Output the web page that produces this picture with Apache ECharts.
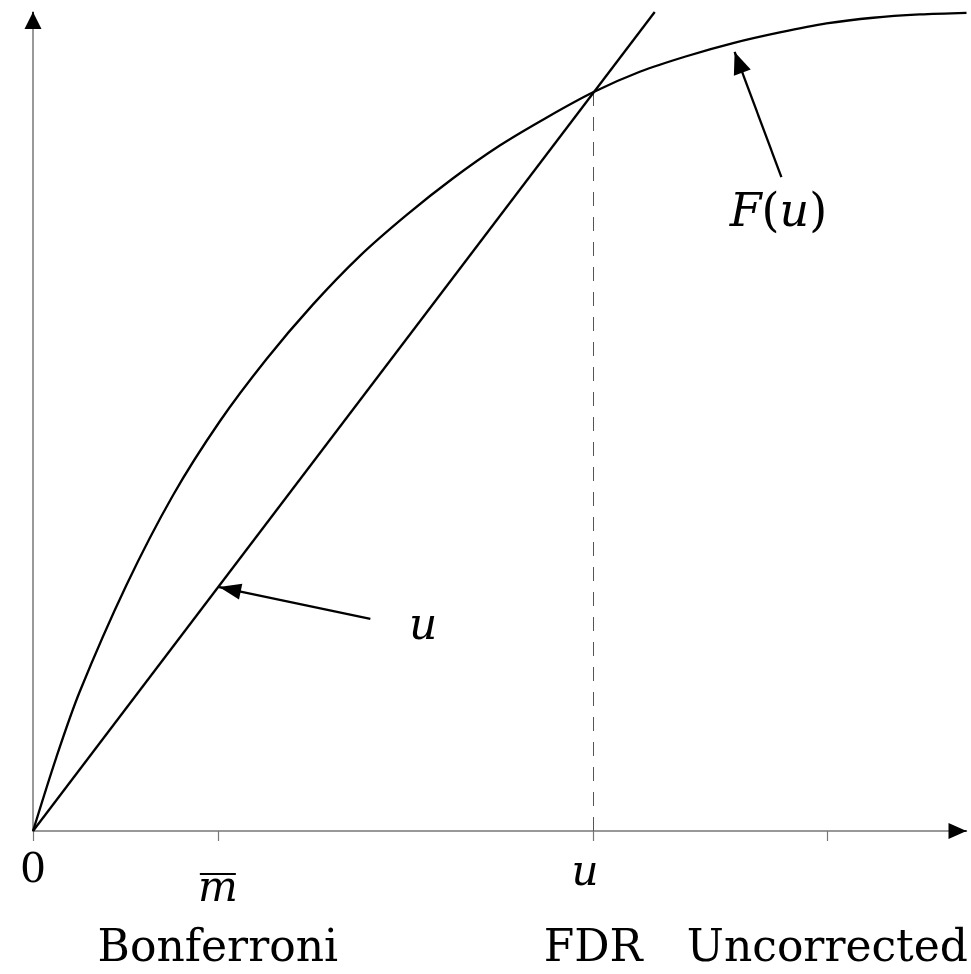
<!DOCTYPE html>
<html><head><meta charset="utf-8">
<script src="https://cdn.jsdelivr.net/npm/echarts@6/dist/echarts.min.js"></script>
<style>html,body{margin:0;padding:0;background:#fff}#c{width:971px;height:974px}</style>
</head><body><div id="c"></div>
<script>
// ---- data ----
const fX = [0, 0.025, 0.05, 0.1, 0.15, 0.2, 0.25, 0.3, 0.35, 0.4, 0.45, 0.5, 0.55, 0.6, 0.65, 0.7, 0.75, 0.8, 0.85, 0.9, 0.95, 1.0];
const fY = [0, 0.090, 0.170, 0.300, 0.410, 0.500, 0.576, 0.643, 0.702, 0.752, 0.797, 0.837, 0.871, 0.902, 0.927, 0.946, 0.962, 0.975, 0.986, 0.993, 0.997, 0.999];
const uX = [0, 0.666];
const uY = [0, 1];
const tickPos = [0, 0.198, 0.600, 0.851];
const tickLabelPos = [0, 0.198, 0.600];
const tickLabels = ['0', 'mbar', 'u'];
const methodPos = [0.198, 0.600, 0.851];
const methodNames = ['Bonferroni', 'FDR', 'Uncorrected'];
const uStar = 0.600;
const fAtUStar = 0.902;
const fArrowFrom = [0.8017, 0.7985], fArrowTo = [0.7516, 0.9512];
const uArrowFrom = [0.3614, 0.2589], uArrowTo = [0.1994, 0.2979];
const fLabelAt = [0.7985, 0.7534];
const uLabelAt = [0.4179, 0.2479];

const SERIF = 'DejaVu Serif';
const AX = '#777';
const chart = echarts.init(document.getElementById('c'), null, {renderer: 'canvas'});

const fData = fX.map((x, i) => [x, fY[i]]);
const uData = uX.map((x, i) => [x, uY[i]]);

function arrow(from, to, size, off) {
  return [
    {coord: from, symbol: 'none', lineStyle: {color: '#000', width: 2.3, type: 'solid'}},
    {coord: to, symbol: 'triangle', symbolSize: size, symbolOffset: [0, off]}
  ];
}

const option = {
  animation: false,
  backgroundColor: '#fff',
  grid: {left: 33, right: 0, top: 12, bottom: 143, containLabel: false},
  xAxis: [{
    type: 'value', min: 0, max: 1,
    axisLine: {show: true, onZero: false, lineStyle: {color: AX, width: 1.5}},
    axisTick: {show: true, length: 10, customValues: tickPos, lineStyle: {color: AX, width: 1.2}},
    splitLine: {show: false},
    axisLabel: {
      show: true, customValues: tickLabelPos, margin: 18,
      formatter: function (v) {
        let k = 0, best = 1e9;
        tickLabelPos.forEach((p, i) => { if (Math.abs(p - v) < best) { best = Math.abs(p - v); k = i; } });
        const t = tickLabels[k];
        if (t === 'mbar') return '{sp| }\n{ov| }\n{m|m}';
        if (t === 'u') return '{i|u}';
        return '{n|' + t + '}';
      },
      rich: {
        n: {fontFamily: SERIF, fontSize: 41, lineHeight: 44, color: '#000'},
        i: {fontFamily: SERIF, fontStyle: 'italic', fontSize: 42, lineHeight: 50, color: '#000', padding: [0, 16, 0, 0]},
        sp: {fontSize: 2, lineHeight: 24},
        ov: {fontSize: 2, lineHeight: 2, height: 2, width: 36, backgroundColor: '#000'},
        m: {fontFamily: SERIF, fontStyle: 'italic', fontSize: 42, lineHeight: 30, color: '#000'}
      }
    }
  }, {
    type: 'value', min: 0, max: 1, position: 'bottom',
    axisLine: {show: false}, axisTick: {show: false}, splitLine: {show: false},
    axisLabel: {
      show: true, customValues: methodPos, margin: 96,
      formatter: function (v) {
        let k = 0, best = 1e9;
        methodPos.forEach((p, i) => { if (Math.abs(p - v) < best) { best = Math.abs(p - v); k = i; } });
        return methodNames[k];
      },
      fontFamily: SERIF, fontSize: 44, lineHeight: 46, color: '#000'
    }
  }],
  yAxis: {
    type: 'value', min: 0, max: 1,
    axisLine: {show: true, onZero: false, lineStyle: {color: AX, width: 1.5}},
    axisTick: {show: false}, axisLabel: {show: false}, splitLine: {show: false}
  },
  series: [{
    name: 'F(u)', type: 'line', data: fData, smooth: 0.3,
    showSymbol: false, lineStyle: {color: '#000', width: 2.3}, z: 5
  }, {
    name: 'u', type: 'line', data: uData, showSymbol: false,
    lineStyle: {color: '#000', width: 2.3}, z: 5,
    markLine: {
      silent: true, animation: false, label: {show: false},
      data: [
        [{coord: [uStar, 0], symbol: 'none', lineStyle: {color: '#555', width: 1, type: [14, 11]}},
         {coord: [uStar, fAtUStar], symbol: 'none'}],
        arrow(fArrowFrom, fArrowTo, [18, 22], 11),
        arrow(uArrowFrom, uArrowTo, [16, 22], 11),
        [{coord: [0.986, 0], symbol: 'none', lineStyle: {color: '#000', width: 1.5, type: 'solid'}},
         {coord: [1, 0], symbol: 'triangle', symbolSize: [16, 18], symbolOffset: [0, 9]}],
        [{coord: [0, 0.986], symbol: 'none', lineStyle: {color: '#000', width: 1.5, type: 'solid'}},
         {coord: [0, 1], symbol: 'triangle', symbolSize: [17, 17], symbolOffset: [0, 8.5]}]
      ]
    },
    markPoint: {
      silent: true, animation: false, symbol: 'circle', symbolSize: 1,
      itemStyle: {color: 'rgba(0,0,0,0)'},
      label: {show: true, position: 'inside', color: '#000'},
      data: [
        {coord: fLabelAt, label: {formatter: '{i|F}{r|(}{i|u}{r|)}', rich: {
          i: {fontFamily: SERIF, fontStyle: 'italic', fontSize: 46, color: '#000'},
          r: {fontFamily: SERIF, fontSize: 46, color: '#000'}}}},
        {coord: uLabelAt, label: {formatter: '{i|u}', rich: {
          i: {fontFamily: SERIF, fontStyle: 'italic', fontSize: 44, color: '#000'}}}}
      ]
    }
  }]
};
chart.setOption(option);
</script></body></html>
